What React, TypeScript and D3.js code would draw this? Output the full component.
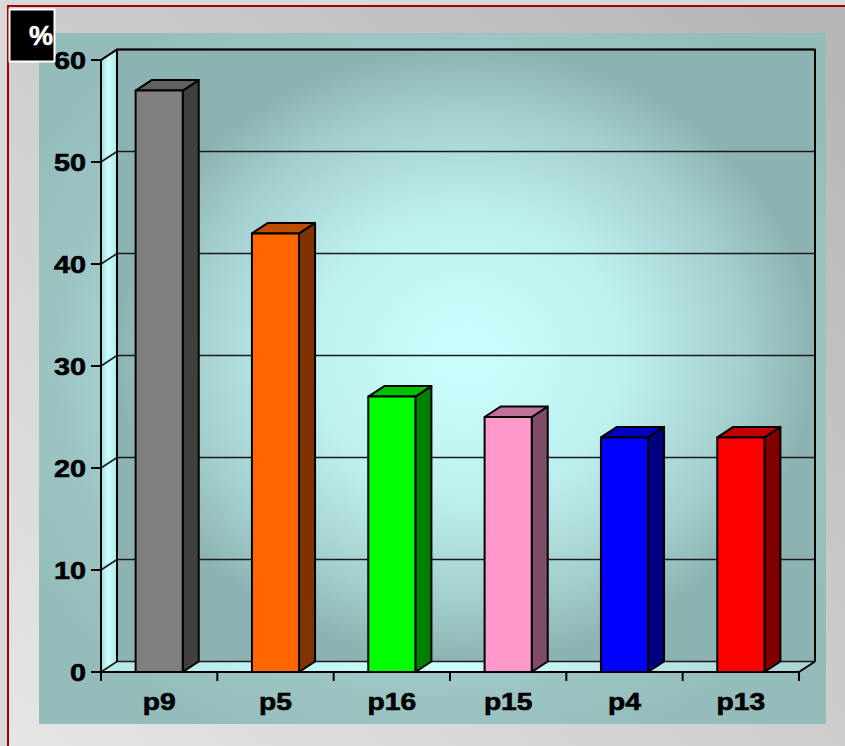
import React from "react";
import * as d3 from "d3";

// Survey share per item, in percent
const categories = ["p9", "p5", "p16", "p15", "p4", "p13"];
const values = [57, 43, 27, 25, 23, 23];
const frontColors = ["#808080", "#ff6600", "#00ff00", "#ff99cc", "#0000ff", "#ff0000"];
const sideColors = ["#404040", "#803300", "#008000", "#804c66", "#000080", "#800000"];
const topColors = ["#606060", "#c04c00", "#00c000", "#c07399", "#0000c0", "#c00000"];
const yTicks = [0, 10, 20, 30, 40, 50, 60];
const unitLabel = "%";

const W = 845;
const H = 746;
const FONT = "'Liberation Sans', Arial, sans-serif";
const STRETCH = 1.2; // labels are set slightly wide

// front plane of the 3D box and its depth offset
const X0 = 101;
const X1 = 799;
const Y_BOTTOM = 672;
const Y_TOP = 60;
const DX = 16;
const DY = 10.5;

export default function App() {
  const y = d3.scaleLinear().domain([0, 60]).range([Y_BOTTOM, Y_TOP]);
  const x = d3.scaleBand<string>().domain(categories).range([X0, X1]).padding(0);
  const step = x.bandwidth();
  const bw = step * 0.405;

  const pts = (p: [number, number][]) => p.map((d) => d.join(",")).join(" ");

  const wallLeft = X0 + DX;
  const wallRight = X1 + DX;
  const wallTop = y(60) - DY;
  const wallBottom = Y_BOTTOM - DY;

  return (
    <div style={{ position: "fixed", left: 0, top: 0 }}>
      <svg width={W} height={H} style={{ display: "block" }}>
        <defs>
          <linearGradient id="outerBg" x1="0" y1="1" x2="1" y2="0">
            <stop offset="0" stopColor="#e6e6e6" />
            <stop offset="1" stopColor="#b4b4b4" />
          </linearGradient>
          <radialGradient id="panelBg" cx="0.5" cy="0.48" r="0.6">
            <stop offset="0" stopColor="#ccffff" />
            <stop offset="0.45" stopColor="#b8e8e8" />
            <stop offset="0.8" stopColor="#9bc4c3" />
            <stop offset="1" stopColor="#94bcbb" />
          </radialGradient>
          <radialGradient id="wallBg" cx="0.5" cy="0.5" r="0.5">
            <stop offset="0" stopColor="#ccffff" />
            <stop offset="0.45" stopColor="#bff0f0" />
            <stop offset="0.8" stopColor="#a2cecd" />
            <stop offset="1" stopColor="#8cb3b1" />
          </radialGradient>
          <linearGradient id="sideWall" x1="0" y1="0" x2="1" y2="0">
            <stop offset="0" stopColor="#a4dcdc" />
            <stop offset="0.45" stopColor="#ccffff" />
            <stop offset="1" stopColor="#aee6e6" />
          </linearGradient>
          <linearGradient id="floorBg" x1="0" y1="0" x2="1" y2="0">
            <stop offset="0" stopColor="#b4e6e6" />
            <stop offset="0.5" stopColor="#ccffff" />
            <stop offset="1" stopColor="#a8d4d3" />
          </linearGradient>
        </defs>

        {/* page background and frame */}
        <rect x={0} y={0} width={W} height={H} fill="#d8d8d8" />
        <rect x={8} y={6} width={W + 10} height={H + 10} fill="url(#outerBg)" stroke="#a00000" strokeWidth={2} />

        {/* plot panel */}
        <rect x={39} y={33} width={787} height={691} fill="url(#panelBg)" />

        {/* back wall */}
        <rect
          x={wallLeft}
          y={wallTop}
          width={wallRight - wallLeft}
          height={wallBottom - wallTop}
          fill="url(#wallBg)"
        />
        {/* left side wall */}
        <polygon
          points={pts([
            [X0, y(60)],
            [wallLeft, wallTop],
            [wallLeft, wallBottom],
            [X0, Y_BOTTOM],
          ])}
          fill="url(#sideWall)"
        />
        {/* floor */}
        <polygon
          points={pts([
            [X0, Y_BOTTOM],
            [wallLeft, wallBottom],
            [wallRight, wallBottom],
            [X1, Y_BOTTOM],
          ])}
          fill="url(#floorBg)"
        />

        {/* gridlines on back wall and side wall */}
        {yTicks.map((t) => (
          <g key={"g" + t} stroke="#1a1a1a" strokeWidth={1.5} fill="none">
            <line x1={wallLeft} x2={wallRight} y1={y(t) - DY} y2={y(t) - DY} />
            <line x1={X0} x2={wallLeft} y1={y(t)} y2={y(t) - DY} />
          </g>
        ))}

        {/* wall outlines */}
        <g stroke="#000" strokeWidth={2} fill="none" strokeLinejoin="round">
          <polyline
            points={pts([
              [wallLeft, wallBottom],
              [wallLeft, wallTop],
              [wallRight, wallTop],
              [wallRight, wallBottom],
            ])}
          />
          <line x1={X0} y1={y(60)} x2={wallLeft} y2={wallTop} />
          <line x1={X1} y1={Y_BOTTOM} x2={wallRight} y2={wallBottom} />
        </g>

        {/* 3D bars */}
        {categories.map((c, i) => {
          const bx = (x(c) as number) + (step - bw) / 2;
          const top = y(values[i]);
          const front: [number, number][] = [
            [bx, top],
            [bx + bw, top],
            [bx + bw, Y_BOTTOM],
            [bx, Y_BOTTOM],
          ];
          const side: [number, number][] = [
            [bx + bw, top],
            [bx + bw + DX, top - DY],
            [bx + bw + DX, Y_BOTTOM - DY],
            [bx + bw, Y_BOTTOM],
          ];
          const lid: [number, number][] = [
            [bx, top],
            [bx + DX, top - DY],
            [bx + bw + DX, top - DY],
            [bx + bw, top],
          ];
          return (
            <g key={c} stroke="#000" strokeWidth={2} strokeLinejoin="round">
              <polygon points={pts(side)} fill={sideColors[i]} />
              <polygon points={pts(lid)} fill={topColors[i]} />
              <polygon points={pts(front)} fill={frontColors[i]} />
            </g>
          );
        })}

        {/* front axes */}
        <g stroke="#000" strokeWidth={2} fill="none">
          <line x1={X0} y1={y(60)} x2={X0} y2={Y_BOTTOM} />
          <line x1={X0} y1={Y_BOTTOM} x2={X1} y2={Y_BOTTOM} />
          {yTicks.map((t) => (
            <line key={"yt" + t} x1={X0 - 10} x2={X0} y1={y(t)} y2={y(t)} />
          ))}
          {[...categories.map((c) => x(c) as number), X1].map((v, i) => (
            <line key={"xt" + i} x1={v} x2={v} y1={Y_BOTTOM} y2={Y_BOTTOM + 9} />
          ))}
        </g>

        {/* y tick labels */}
        {yTicks.map((t) => (
          <text
            key={"yl" + t}
            transform={`translate(${X0 - 15},${y(t) + 8.7}) scale(${STRETCH},1)`}
            textAnchor="end"
            fontFamily={FONT}
            fontWeight="bold"
            fontSize={24}
            fill="#000"
            stroke="#000"
            strokeWidth={0.6}
          >
            {t}
          </text>
        ))}

        {/* category labels */}
        {categories.map((c) => (
          <text
            key={"xl" + c}
            transform={`translate(${(x(c) as number) + step / 2},710) scale(${STRETCH},1)`}
            textAnchor="middle"
            fontFamily={FONT}
            fontWeight="bold"
            fontSize={23.5}
            fill="#000"
            stroke="#000"
            strokeWidth={0.6}
          >
            {c}
          </text>
        ))}

        {/* unit badge */}
        <rect x={9.5} y={9.5} width={45} height={52} fill="#000" stroke="#fff" strokeWidth={2} />
        <text
          x={53}
          y={45}
          textAnchor="end"
          fontFamily={FONT}
          fontWeight="bold"
          fontSize={27}
          fill="#fff"
          stroke="#fff"
          strokeWidth={0.5}
        >
          {unitLabel}
        </text>
      </svg>
    </div>
  );
}
